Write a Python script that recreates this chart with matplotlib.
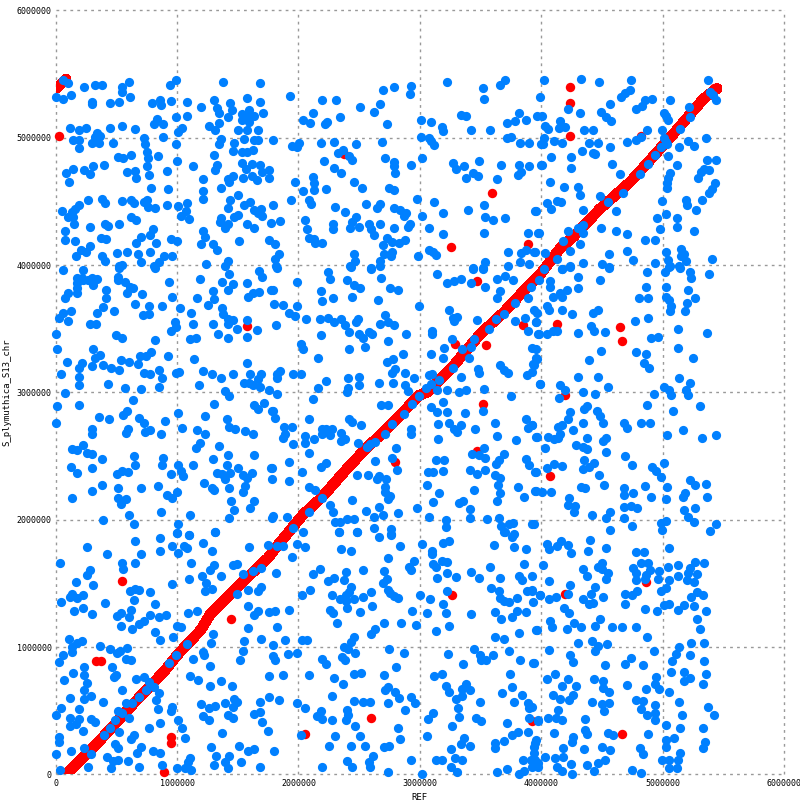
import numpy as np
import matplotlib
matplotlib.use('Agg')
import matplotlib.pyplot as plt

# positions in kb: (REF, S_plymuthica_S13_chr)
# main diagonal, forward matches
diag_x = [83, 367, 643, 892, 1002, 1195, 1278, 1471, 1747, 1821, 2041, 2193, 2386, 2565, 2730, 2992, 3061, 3267, 3501, 3694, 3887, 3997, 4154, 4264, 4485, 4733, 4871, 5091, 5339, 5449]
diag_y = [0, 270, 558, 807, 938, 1134, 1265, 1449, 1698, 1790, 2044, 2176, 2386, 2569, 2714, 2976, 3002, 3199, 3462, 3632, 3829, 3934, 4129, 4221, 4443, 4653, 4797, 5033, 5308, 5387]
corner_x = [10, 86]
corner_y = [5390, 5460]

red_hits = [(30,5017),(3595,4569),(3256,4145),(3893,4168),(2377,4871),(1576,3522),(3546,3370),(3521,2905),(2793,2451),(3289,3383),(3474,3874),(3846,3533),(3474,2543),
    (4132,3541),(4653,3517),(4669,3402),(4074,2344),(4193,2976),(544,1517),(334,888),(373,888),(1446,1218),(947,291),(947,249),(892,16),
    (2598,440),(2055,314),(3262,1412),(4669,314),(4196,1415),(4865,1514),(3920,422),(4240,5400),(4240,5270),(4240,5010),(4825,5010),(5420,5390)]

blue_on_diag = [(5394,5360),(5416,5334),(5438,5300),(5223,5159),(5141,5072),(5030,4967),(4986,4928),(4939,4863),(4876,4797),(4815,4719),(4672,4569),(4554,4496),(4347,4313),(4127,4051),(4022,3972),
    (2091,2057),(1959,1934),(2193,2170),(2565,2569),(2592,2596),(2634,2609),(2716,2674),(2771,2753),(2868,2832),(2937,2911),(2992,2968),(3143,3016),(3157,3094),(3088,3068),(3273,3192),(3350,3344),(3419,3357),(3446,3423),(3570,3501),(3625,3580),(3694,3619),(3785,3706),(3915,3829),(3984,3882),
    (237,204),(395,307),(444,362),(491,427),(511,500),(547,479),(602,440),(582,563),(629,558),(684,610),(740,663),(767,728),(809,689),(933,878),(994,935),(1082,1022),(1821,1790),(1876,1795)]

blue_upper_left = [(63,5452),(105,5426),(237,5395),(326,5418),(381,5413),(602,5434),(546,5395),(544,5360),(0,5321),(63,5308),(124,5332),(613,5316),(298,5282),(298,5261),(444,5269),(522,5279),(795,5269),(858,5295),(864,5258),(947,5285),(941,5418),(994,5450),(1082,5277),(1195,5245),(1305,5300),(1333,5237),(1347,5195),(1435,5269),(1452,5216),(1416,5164),(1579,5311),(1686,5277),(1380,5434),(1686,5426),(1706,5198),(1595,5216),(1637,5169),(1532,5190),(1532,5143),(1595,5125),(1576,5164),
    (836,5151),(814,5109),(886,5109),(991,5161),(1082,5169),(1043,5075),(1007,5046),(1264,5096),(1314,5064),(1347,5112),(1499,5062),(1579,5057),(1670,5057),(119,5075),(188,5059),(248,5080),(444,5080),(544,5096),(651,5072),
    (141,4986),(188,4986),(196,4923),(339,5041),(367,5017),(298,4960),(356,4960),(326,5007),(469,4962),(726,4994),(734,4954),(883,5002),(991,4947),(1361,4991),(1347,4947),(1471,4960),(1463,4899),(1554,4988),(1637,4981),(1670,4986),(1532,4889),(1576,4889),(1623,4907),(1305,4868),(753,4889),(759,4842),(842,4860),(513,4852),(555,4844),(621,4863),
    (400,4789),(306,4776),(237,4750),(284,4719),(141,4753),(86,4726),(113,4656),(753,4776),(999,4821),(1132,4781),(919,4742),(588,4734),(654,4742),(660,4684),(770,4711),(1333,4789),(1314,4750),(1214,4679),(1416,4679),(1463,4698),(1430,4653),(1532,4802),(1568,4758),(1615,4795),(1546,4687),(1615,4698),(1656,4671),(1686,4784),(1697,4732),(1761,4750),(1761,4687),
    (784,4609),(925,4601),(1363,4609),(1212,4582),(1217,4522),(1504,4554),(270,4514),(381,4522),(406,4491),(546,4506),(624,4509),(646,4491),(726,4496),(753,4509),(762,4457),(817,4449),(919,4470),(1007,4467),(1085,4485),(1438,4509),(1416,4451),(1554,4475),(1604,4498),(1637,4436),(1692,4443),(1664,4412),(1697,4386),
    (188,4470),(163,4438),(138,4417),(50,4423),(105,4378),(141,4378),(155,4326),(624,4381),(660,4354),(1029,4388),(1074,4425),(1101,4365),(1361,4373),(1352,4339),(1416,4326),(1397,4292),(1471,4378),(1501,4391),(1579,4326),(1637,4294),(1775,4333),
    (279,4299),(406,4326),(428,4310),(522,4326),(80,4271),(800,4286),(776,4239),(1214,4271),(1228,4221),(80,4200),(163,4192),(373,4216),(411,4208),(704,4218),(660,4176),(825,4176),(952,4208),(1002,4192),(1195,4168),(1510,4192),(1761,4200),(1300,4168),(1333,4121),
    (284,4153),(210,4121),(246,4103),(171,4074),(505,4095),(588,4100),(676,4090),(776,4103),(381,4069),(406,4032),(704,4024),(891,4069),(960,4074),(850,4024),(814,3993),(1239,4009),(1416,4032),(1397,3993),(519,3993),(549,3998)]

blue_upper_mid = [(1934,5324),(2198,5300),(2306,5300),(2116,5198),(2039,5143),(2099,5112),(2215,5104),(2234,5122),(2339,5161),(2504,5245),(2620,5206),(2669,5261),(2697,5374),(2785,5395),(2926,5405),(2917,5345),(2727,5104),(3008,5143),(3091,5127),(3185,5085),(3193,5054),(3223,5434),(3521,5387),(3529,5308),(3661,5418),(3703,5457),(3992,5316),(3336,5182),(3383,5167),(3422,5057),(3579,5057),(3818,5198),(3785,5135),(3719,5119),(3876,5143),(3964,5174),
    (1793,4986),(1945,4939),(1986,4928),(2008,4962),(2187,4962),(2289,4970),(2471,4947),(2686,4970),(3008,5002),(3074,4996),(3116,4941),(3096,4975),(3719,4994),(3755,5002),(3827,4962),(3901,4962),(3997,4954),
    (2364,4907),(2322,4881),(2413,4860),(2438,4829),(2207,4821),(2289,4766),(2347,4726),(2711,4844),(2785,4810),(2785,4779),(2793,4726),(2926,4789),(3017,4844),(3273,4802),(3298,4758),(3364,4779),(3488,4821),(3670,4789),(3818,4789),(3901,4781),(3997,4789),(3438,4726),(3479,4703),(3380,4687),(3639,4679),(3835,4734),(3807,4711),
    (2116,4695),(2132,4648),(2124,4593),(1975,4656),(2039,4585),(2223,4601),(2455,4656),(2521,4609),(2744,4609),(2788,4590),(1942,4514),(2083,4509),(2107,4480),(1793,4470),(2298,4459),(2380,4420),(2554,4483),(2669,4477),(2645,4451),(2785,4451),(2835,4436),(2884,4412),(2868,4386),(2975,4522),(3116,4493),(3190,4412),(3397,4436),(3529,4475),(3537,4381),(3603,4357),(3703,4373),(3959,4428),(3017,4388),
    (2058,4357),(1851,4349),(2074,4286),(2281,4320),(2281,4284),(2471,4381),(2444,4341),(2427,4294),(2496,4302),(2579,4320),(2600,4286),(2669,4326),(2620,4237),(2785,4294),(2917,4326),(2901,4302),(3074,4294),(3190,4247),(3529,4255),(3890,4255),(3984,4255),
    (2091,4216),(2132,4208),(2140,4176),(2198,4176),(1810,4168),(2727,4213),(2694,4160),(2826,4176),(2876,4195),(2768,4184),(3074,4121),(3107,4105),(3135,4082),(2455,4090),(2703,4090),(2768,4105),(2760,4071),(2984,4074),(3727,4105),(3832,4098),(3873,4116),(3951,4105),(3827,4027),(3901,4011),(3537,4027),(3727,3995),(1843,4090),(1810,4051),(1818,3990),(2463,4032),(2427,3990),(2669,4035),(2675,3990),(2595,3972),(3438,3972),(3521,3972)]

blue_upper_right = [(4025,5450),(4331,5465),(4479,5434),(4736,5450),(5372,5450),(4733,5374),(4691,5355),(4661,5316),(4851,5300),(4909,5308),(5058,5300),(4829,5253),(4777,5229),(4570,5261),(4223,5222),(4322,5198),(4496,5206),(4537,5159),(4573,5130),(5008,5198),(5025,5167),(5041,5143),(5215,5245),(4008,5167),(4154,5130),(4198,5088),(4149,5080),(4033,5093),(4058,5070),(4355,5057),(4430,5057),(4868,5057),(4992,5064),
    (4025,4994),(4011,4954),(4105,4978),(4174,4960),(4397,4962),(4466,4962),(4570,4931),(4705,4970),(4777,4986),(4824,5002),(5008,4994),(5036,4954),(5132,4931),(5207,4978),(5256,4939),(5355,4994),
    (4339,4899),(4248,4852),(4083,4852),(4008,4789),(4430,4884),(4446,4876),(4587,4797),(4248,4766),(5041,4860),(5116,4789),(5364,4829),(5438,4829),(5339,4758),(5380,4750),(5314,4732),(5289,4687),(4653,4719),(5058,4726),(5041,4687),(5033,4645),(5033,4606),(5430,4648),(5405,4601),(5380,4567),(4074,4656),(4190,4616),(4306,4614),(4322,4553),(4488,4546),(4992,4506),(5190,4514),(5201,4475),(5322,4514),(5273,4436),(4127,4506),(4160,4498),(4050,4491),(4083,4443),(3950,4428),(4347,4436),(4620,4428),(4956,4373),(5025,4404),(5116,4373),(5118,4302),(4975,4286),(4496,4294),(4620,4271),(4703,4247),(5256,4271),(4223,4271),(3975,4255),(4306,4294),(4347,4255),(4322,4168),(4179,4192),(4240,4113),(4851,4200),(4934,4200),(5025,4105),(4703,4113),(4562,4090),(4752,4043),(4934,4019),(5149,4129),(5174,4090),(5149,4074),(5190,4035),(5405,4051),(5041,4043),(5058,3995),(5132,3995),(4347,4019),(4504,4011),(4562,3988),(4240,3995),(4174,3972),(3942,4105),(4033,4098)]

blue_middle_left = [(63,3958),(221,3961),(519,3979),(822,3974),(179,3895),(215,3895),(179,3856),(229,3882),(270,3882),(298,3895),(340,3890),(306,3843),(179,3816),(179,3777),(105,3777),(80,3745),(511,3908),(511,3882),(574,3869),(615,3829),(638,3822),(588,3777),(712,3769),(411,3808),(411,3738),(386,3672),(339,3627),(477,3640),(651,3698),(767,3680),(878,3675),(770,3619),(718,3604),(933,3864),(958,3753),(1190,3890),(1024,3659),(1115,3627),(1165,3745),(1374,3864),(1430,3926),(1463,3848),(1422,3801),(1579,3856),(1678,3953),(1697,3903),(1297,3793),(1305,3730),(1256,3690),(1582,3748),(1623,3777),(1678,3785),(1775,3801),(1372,3659),(1380,3612),(1416,3580),(1463,3572),(1416,3541),(1490,3501),(1297,3541),(1339,3462),(1416,3430),(1132,3541),(1576,3572),(1656,3493),(1573,3438),(1573,3234),
    (30,3588),(63,3627),(124,3643),(99,3564),(284,3538),(331,3538),(5,3462),(14,3344),(494,3454),(546,3428),(817,3415),(949,3486),(983,3549),(994,3514),(1107,3423),(1159,3430),(304,3344),(362,3297),(320,3273),(97,3241),(215,3234),(190,3193),(298,3210),(386,3218),(453,3194),(519,3178),(535,3252),(602,3241),(676,3226),(698,3286),(742,3283),(787,3320),(925,3289),(1140,3265),(47,3147),(196,3123),(196,3060),(428,3068),(731,3155),(776,3147),(850,3178),(875,3115),(994,3155),(1013,3163),(850,3045),(569,3037),(701,3026),(1181,3060),(1214,3170),(1289,3147),(1363,3115),(1463,3147),(1604,3147),(1695,3147),(1554,3076),(1595,3076),(1664,3108),(1628,3055),(1686,3039),(1755,3021),
    (80,2997),(14,2895),(196,2903),(635,2940),(1397,3013),(1430,2974),(1305,2911),(1637,2903),(1664,2871),(1714,2919),(1780,2856),(588,2856),(552,2824),(359,2808),(436,2792),(684,2800),(731,2761),(897,2777),(1007,2840),(1231,2816),(1408,2792),(5,2761),(1427,2730),(1477,2714),(1041,2722),(1165,2706),(1231,2674),(1562,2698),(1623,2674),(298,2714),(298,2674),(593,2714),(577,2680),(773,2706),(737,2690),(869,2674),
    (1190,2603),(1159,2564),(1347,2580),(221,2588),(138,2556),(174,2548),(262,2525),(298,2514),(378,2478),(646,2501),(883,2485),(1416,2509),(1637,2509),(1297,2478),(130,2417),(174,2367),(298,2407),(651,2430),(875,2430),(1007,2430),(1132,2430),(1408,2430),(1499,2407),(1775,2407),(546,2383),(508,2357),(593,2375),(952,2359),(1032,2383),(1049,2344),(1333,2367),(1374,2359),(1438,2367),(1394,2320),(1546,2351),(1573,2328),(1615,2367),(1780,2320),
    (381,2273),(298,2225),(511,2249),(701,2249),(842,2265),(1223,2288),(1289,2249),(1305,2233),(1430,2249),(1562,2265),(1540,2215),(138,2170),(511,2170),(580,2163),(535,2123),(919,2194),(958,2170),(1002,2218),(1446,2147),(1637,2147),(1604,2092),(1471,2076),(602,2036),(869,2060),(1107,2036),(1430,2013),(386,1995),(643,1966),(1007,1966),(999,1897),(1098,1879),(1314,1903),(1780,2013)]

blue_middle_mid = [(1826,3974),(2240,3942),(2256,3887),(1992,3864),(2430,3987),(2595,3974),(2397,3879),(2678,3895),(2455,3840),(2504,3816),(2752,3816),(2818,3801),(1788,3801),(2187,3793),(2190,3717),(2281,3738),(2438,3753),(2653,3722),(1802,3698),(1876,3690),(1992,3680),(1926,3627),(1975,3601),(2992,3675),(1818,3533),(2066,3580),(2174,3580),(2240,3588),(2289,3549),(2347,3580),(2380,3533),(2413,3478),(2488,3580),(2471,3549),(2711,3606),(2669,3541),(2736,3554),(2785,3533),(2182,3454),(2496,3462),(2529,3430),(2579,3478),(2606,3462),(2884,3462),(2736,3407),(2025,3383),(2041,3344),(2413,3344),(2546,3360),(2860,3304),(2165,3273),(2730,3239),(2780,3265),(1826,3147),(1826,3113),(1848,3170),(1959,3147),(2025,3147),(2405,3115),(2496,3123),(2496,3060),(2231,3092),(2165,3037),(2661,3076),(2777,3076),(2769,3155),(2793,3186),(2876,3155),(2950,3115),(2876,3060),(2901,3013),(2405,3037),(2397,3005),(1821,2989),(2116,2950),(2678,2903),(2736,2903),(1793,2856),(1810,2800),(2083,2792),(2413,2792),(2438,2769),(2513,2745),(1884,2730),(1950,2730),(1890,2674),(1870,2643),(1959,2596),(2190,2714),(2231,2714),(2273,2714),(2198,2674),(2256,2666),(2347,2682),(2347,2619),(2380,2635),(2058,2659),(2124,2635),(2050,2603),(2091,2525),(2488,2603),(2926,2714),(2926,2674),(2802,2564),(2769,2485),(2815,2391),(2628,2462),(1926,2454),(2231,2446),(2182,2414),(2033,2375),(1780,2407),(1926,2304),(2479,2351),(2570,2351),(2661,2346),(2645,2320),(2719,2320),(2711,2254),(2711,2215),(2736,2163),(2752,2189),(2083,2257),(2140,2233),(2256,2115),(2281,2060),(2438,2155),(2661,2100),(2694,2036),(2625,2021),(2554,2068),(2818,2052),(2975,2092),(1909,2021),(1793,2029),(2298,1981),(2339,1981),(2397,2005),(2455,2005),(2331,1903),(2479,1903),(2620,1934),(2760,1926),(2760,1887),(2041,1903),
    (3141,3926),(3438,3974),(3521,3974),(3226,3856),(3281,3874),(3339,3887),(3419,3856),(3636,3887),(3702,3911),(3769,3879),(3537,3824),(3661,3793),(3639,3738),(3887,3738),(3240,3651),(3273,3588),(3306,3596),(3281,3562),(3099,3483),(3099,3462),(3471,3572),(3785,3564),(3865,3588),(3893,3486),(3981,3462),(3959,3549),(3265,3423),(3198,3352),(3190,3273),(3091,3304),(3405,3273),(3959,3344),(3661,3218),(3694,3178),(3727,3155),(3967,3265),(3942,3213),(3884,3139),(3482,3186),(3490,3155),(3074,3139),(3099,3147),(3336,3123),(3050,3037),(3223,3021),(3322,3005),(3380,3021),(3529,3029),(3992,3068),(3752,2968),(3190,2926),(3091,2887),(3141,2848),(3223,2848),(3372,2840),(3521,2856),(3149,2753),(3240,2761),(3281,2714),(3336,2745),(3306,2690),(3455,2714),(3620,2761),(3636,2659),(3876,2792),(3893,2722),(3928,2745),(3793,2627),(3964,2651),(3149,2635),(3529,2564),(3430,2517),(3488,2509),(3540,2485),(3694,2517),(3653,2470),(3628,2436),(3876,2478),(3901,2430),(3132,2470),(3198,2470),(3413,2391),(3471,2359),(3537,2391),(3066,2375),(3107,2375),(3190,2383),(3617,2351),(3661,2330),(3959,2375),(3058,2273),(3157,2210),(3645,2273),(3661,2210),(3636,2147),(3446,2233),(3810,2257),(3959,2225),(3860,2178),(3107,2139),(3322,2131),(3355,2147),(3413,2084),(3074,2021),(3413,2013),(3554,2005),(3653,2013),(3942,1966),(3769,1973),(3215,1997),(3215,1942),(3670,1950),(3694,1903),(3736,1966),(3777,1887)]

blue_middle_right = [(4868,3942),(5022,3942),(5050,3987),(5146,3979),(5223,3948),(5231,3895),(5380,3926),(4562,3979),(4174,3966),(4237,3987),(4306,3903),(4488,3879),(4074,3871),(4074,3824),(4306,3816),(4215,3808),(4154,3777),(4099,3753),(4174,3753),(4860,3824),(4802,3738),(4876,3745),(5025,3824),(5025,3753),(5050,3722),(5066,3675),(5058,3643),(5207,3801),(5265,3745),(5198,3706),(5182,3643),(4050,3682),(4066,3651),(4174,3651),(4256,3612),(3942,3651),(3967,3627),(3959,3556),(4430,3627),(4471,3651),(4769,3564),(4876,3588),(4413,3525),(4438,3486),(4529,3478),(4306,3470),(5124,3501),(5364,3470),(4901,3430),(4959,3438),(3975,3462),(4044,3462),(4099,3480),(4132,3486),(3928,3352),(4496,3328),(4397,3257),(4777,3320),(4860,3304),(5124,3352),(5248,3273),(4843,3234),(4884,3194),(3961,3273),(3934,3226),(3928,3160),(4306,3123),(4471,3123),(4554,3045),(3992,3068),(4157,3060),(4193,3021),(4149,2958),(4347,3005),(4446,2989),(4926,2989),(5008,3045),(5050,3016),(5066,2976),(5132,3115),(5223,3076),(5190,3021),(5207,2982),(4868,2903),(5083,2856),(5306,2895),(4380,2895),(4355,2871),(4240,2848),(4223,2792),(4463,2856),(4488,2816),(4512,2761),(4347,2761),(4686,2761),(4703,2722),(4818,2761),(4893,2761),(3928,2745),(4141,2730),(4174,2745),(4264,2706),(4157,2674),(4141,2643),(4058,2651),(4107,2635),(3959,2651),(4380,2643),(4537,2643),(4512,2619),(5033,2666),(5165,2706),(5322,2643),(5438,2666),(4033,2564),(4289,2588),(4347,2572),(4380,2556),(4537,2533),(4694,2501),(4355,2470),(4438,2446),(4397,2414),(4347,2399),(4744,2430),(5008,2446),(4909,2414),(4948,2383),(4984,2336),(4107,2438),(4174,2422),(4050,2407),(3950,2375),(4479,2351),(4521,2273),(4331,2257),(4364,2249),(4686,2249),(4686,2194),(4752,2210),(4851,2265),(5033,2257),(4901,2178),(5025,2163),(5223,2312),(5265,2273),(5355,2281),(5182,2210),(5165,2178),(5364,2178),(3950,2225),(4008,2218),(4083,2218),(4231,2170),(4223,2115),(4281,2107),(4273,2060),(4421,2036),(4570,2060),(4537,2013),(4686,2100),(4736,2107),(4785,2092),(4678,2013),(5174,2076),(5265,2092),(5207,2021),(5256,1981),(4984,1973),(5025,1989),(4992,1918),(4744,1950),(4570,1918),(5438,1966),(5389,1911),(3928,1966)]

blue_lower_left = [(858,1855),(999,1899),(1098,1879),(1314,1906),(657,1831),(262,1784),(858,1753),(958,1792),(1007,1737),(1057,1792),(1085,1776),(1214,1816),(1289,1753),(1595,1784),(1747,1800),(420,1729),(701,1729),(39,1658),(544,1658),(651,1658),(552,1611),(1115,1658),(1305,1643),(1272,1603),(1463,1643),(1496,1651),(1206,1556),(1363,1556),(1546,1572),(1623,1596),(1695,1619),(284,1603),(262,1564),(171,1509),(304,1486),(1101,1533),(1239,1501),(1231,1438),(1289,1454),(958,1493),(1587,1446),(1670,1438),(1695,1470),(1496,1415),(610,1438),(651,1454),(684,1446),(776,1430),(643,1368),(817,1336),(47,1352),(119,1391),(138,1415),(179,1383),(221,1407),(406,1344),(155,1281),(229,1305),(298,1258),(1587,1326),(621,1289),(535,1265),(502,1242),(602,1234),(776,1250),(850,1234),(908,1250),(1090,1265),(1165,1281),(1637,1250),(1670,1281),(1761,1273),(726,1203),(684,1179),(627,1140),(535,1163),(817,1116),(858,1053),(999,1163),(1029,1155),(966,1077),(1297,1100),(1281,1030),(1587,1148),(1554,1045),(1695,1061),(113,1061),(132,998),(179,1030),(215,1045),(362,1006),(444,982),(502,951),(527,967),(585,990),(132,959),(63,935),(30,880),(577,904),(618,896),(1132,904),(1214,959),(1223,935),(1546,967),(1521,896),(1272,849),(237,841),(461,841),(146,794),(237,778),(72,739),(494,778),(477,762),(262,715),(237,660),(295,613),(237,590),(121,597),(386,566),(544,660),(662,747),(726,765),(1107,770),(1173,739),(1363,731),(1455,692),(1272,692),(850,637),(825,582),(1761,770),(1761,610),(47,519),(188,511),(5,464),(121,440),(196,432),(295,432),(320,409),(121,377),(171,393),(221,338),(845,511),(958,527),(949,495),(1198,550),(1264,519),(1314,534),(1397,558),(1471,590),(1493,566),(1463,527),(1686,566),(1214,456),(1264,424),(1422,464),(1463,440),(1686,487),(1637,472),(1007,424),(1041,362),(1703,409),(1747,338),(856,401),(767,362),(1372,322),(519,330),(643,307),(618,275),(1065,283),(30,291),(30,252),(486,236),(511,204),(701,212),(800,181),(858,165),(1281,212),(1512,220),(1587,181),(1637,197),(130,181),(5,157),(287,157),(668,165),(1322,141),(1430,141),(1397,94),(1529,94),(420,134),(469,102),(511,113),(593,102),(1107,126),(1090,94),(1305,71),(1422,47),(1686,55),(265,55),(453,47),(684,55),(875,71),(39,31),(999,47),(1065,47),(1115,31)]

blue_lower_mid = [(2331,1907),(2479,1907),(2661,1863),(2760,1879),(2835,1792),(3017,1808),(3190,1816),(3240,1831),(3703,1907),(3761,1863),(3612,1800),(3777,1784),(3876,1769),(2347,1769),(2430,1753),(3099,1753),(3099,1729),(2736,1698),(2950,1674),(2909,1627),(2926,1603),(2058,1784),(1992,1808),(1950,1706),(3107,1651),(3182,1674),(3226,1666),(3132,1627),(3223,1580),(3860,1651),(3579,1627),(2529,1603),(2703,1596),(2174,1611),(2116,1572),(2388,1588),(1818,1580),(3422,1588),(3141,1541),(3298,1548),(3490,1541),(3661,1541),(3818,1556),(3843,1525),(3926,1556),(2240,1517),(2289,1541),(2372,1525),(2727,1533),(2694,1501),(2430,1470),(3587,1462),(3650,1438),(3884,1438),(3923,1446),(2033,1407),(2099,1446),(2273,1407),(2413,1430),(2388,1407),(2595,1430),(2736,1446),(2752,1423),(3000,1407),(3223,1438),(3986,1407),(2339,1376),(2388,1360),(2455,1376),(2529,1391),(2785,1399),(2818,1383),(3083,1376),(3661,1383),(3694,1360),(3736,1352),(3802,1383),(2603,1320),(3190,1336),(2397,1305),(2256,1289),(2281,1265),(2504,1273),(2934,1281),(3058,1265),(3215,1265),(3422,1258),(3620,1273),(3802,1281),(3876,1273),(1926,1289),(1810,1281),(3761,1234),(3670,1218),(2314,1187),(2703,1187),(2843,1187),(2967,1171),(3240,1163),(1826,1155),(3967,1132),(3818,1108),(3132,1124),(2628,1140),(2595,1100),(2455,1077),(2430,1037),(3620,1077),(3694,1061),(1892,1053),(2033,1053),(2074,1053),(1793,1014),(2372,998),(2405,982),(2463,951),(2744,982),(2868,951),(3446,982),(3231,943),(3496,935),(3603,935),(3736,967),(1917,943),(1992,951),(1793,927),(1810,896),(2198,904),(2223,865),(2355,920),(2380,896),(3504,896),(3543,896),(3827,896),(3355,865),(3942,872),(2802,841),(1876,778),(2083,778),(2455,786),(2512,794),(2703,778),(2289,755),(2364,707),(3116,770),(3182,786),(3744,786),(2736,684),(2711,660),(2793,645),(2826,597),(2926,605),(2959,558),(3215,692),(3240,645),(3380,707),(3347,668),(3413,660),(3347,613),(3298,590),(3761,684),(3678,637),(3843,621),(2273,613),(1843,582),(1992,558),(2058,519),(2455,574),(2529,566),(2587,566),(2736,558),(3496,566),(3777,566),(3887,558),(3901,519),(2876,503),(3314,519),(3107,479),(2397,503),(2182,495),(2149,456),(2190,432),(2273,424),(2405,464),(2388,424),(3066,432),(3322,448),(3463,440),(3504,417),(3901,440),(3970,422),(2463,377),(2818,362),(3265,377),(3719,401),(2017,307),(2298,299),(2504,299),(3058,299),(2835,275),(3810,330),(3887,330),(3761,307),(3694,259),(1802,181),(2248,220),(2430,220),(2546,220),(2703,212),(2744,220),(3364,283),(3339,236),(3413,220),(3620,244),(3620,204),(3256,196),(3956,270),(3942,217),(2614,141),(2579,94),(2587,55),(2397,102),(2438,55),(2198,55),(2926,110),(3132,110),(3182,110),(2736,16),(3017,0),(3289,126),(3347,110),(3256,55),(3306,16),(3636,16),(3719,39),(3818,0),(3851,110),(3860,24),(3912,113),(3942,165),(3970,86),(3928,55)]

blue_lower_right = [(4405,1839),(4050,1808),(4066,1769),(4132,1792),(4165,1831),(4223,1800),(4248,1737),(4388,1753),(4537,1776),(4777,1745),(4843,1745),(5050,1776),(4017,1643),(4826,1658),(4876,1658),(4752,1619),(4777,1580),(4777,1525),(4893,1603),(4860,1567),(4851,1533),(4967,1596),(4959,1533),(5041,1627),(5050,1525),(5124,1643),(5265,1666),(5339,1658),(5223,1619),(5124,1556),(5207,1580),(5281,1572),(5198,1525),(5256,1509),(4347,1611),(4380,1556),(4471,1627),(4504,1658),(4504,1611),(4554,1580),(4537,1533),(4066,1517),(4240,1486),(3920,1438),(3992,1407),(4223,1415),(4066,1376),(4124,1391),(4446,1470),(4413,1415),(4347,1376),(4397,1336),(4430,1344),(4512,1391),(4694,1415),(4744,1407),(4785,1438),(4694,1336),(4984,1438),(5025,1462),(5231,1391),(5281,1430),(5331,1407),(3934,1352),(4190,1305),(4231,1265),(4851,1297),(4950,1281),(5008,1328),(5050,1336),(5124,1289),(5174,1328),(5256,1320),(5355,1281),(5284,1218),(4074,1203),(4091,1155),(3959,1132),(4215,1140),(4273,1187),(4331,1155),(4488,1218),(4446,1163),(4579,1155),(4669,1155),(4777,1155),(5306,1140),(4868,1077),(4306,1030),(4421,1045),(4471,1006),(4545,1022),(4446,967),(4066,975),(5231,1030),(5339,1030),(5132,998),(4926,967),(5113,943),(5223,935),(4240,935),(4264,886),(3934,872),(4529,857),(4736,912),(4694,865),(4835,857),(5074,888),(5339,888),(5066,802),(5174,802),(4116,786),(4050,747),(4223,747),(4438,747),(4512,731),(4942,762),(5223,755),(5355,786),(5174,731),(5331,707),(4168,692),(4289,692),(4512,676),(4562,645),(4703,700),(4860,668),(4934,710),(4967,668),(5050,645),(4099,621),(4157,590),(4231,582),(4264,621),(4421,566),(4504,550),(4562,558),(4521,495),(4777,582),(4835,574),(4826,511),(4868,464),(4934,542),(4934,479),(4934,424),(5132,566),(5372,527),(5157,464),(5421,464),(4141,503),(4058,440),(4121,440),(4174,424),(3975,424),(3928,532),(4364,432),(5025,385),(5141,362),(5331,362),(4107,322),(4364,346),(4380,317),(4554,322),(4595,307),(4876,314),(5025,267),(5091,283),(5025,217),(5347,252),(5331,207),(4265,291),(4256,252),(3948,244),(4182,204),(4355,197),(4504,212),(4570,189),(4810,204),(4835,157),(5141,165),(4033,134),(4116,126),(4182,134),(5124,110),(4992,110),(5050,110),(4529,110),(4471,86),(4380,71),(4248,79),(4132,55),(4174,24),(4438,24),(4256,0),(5050,47),(5116,47),(4744,31),(4818,8),(3975,60),(3948,113)]

tick_values = [0, 1000000, 2000000, 3000000, 4000000, 5000000, 6000000]

blue_all = np.array(blue_upper_left + blue_upper_mid + blue_upper_right + blue_middle_left + blue_middle_mid
                    + blue_middle_right + blue_lower_left + blue_lower_mid + blue_lower_right + blue_on_diag) * 1000
red_all = np.array(red_hits) * 1000

fig = plt.figure(figsize=(8, 8), dpi=100)
ax = fig.add_axes([0.0696, 0.032, 0.9104, 0.955])

# forward matches as a thick band, then single hits, repeats on top
ax.plot(np.array(diag_x) * 1000, np.array(diag_y) * 1000, color='#ff0000', lw=7, solid_capstyle='round', zorder=2, antialiased=False)
ax.plot(np.array(corner_x) * 1000, np.array(corner_y) * 1000, color='#ff0000', lw=7, solid_capstyle='round', zorder=2, antialiased=False)
ax.scatter(red_all[:, 0], red_all[:, 1], s=46, c='#ff0000', linewidths=0, zorder=3, antialiased=False, clip_on=False)
ax.scatter(blue_all[:, 0], blue_all[:, 1], s=44, c='#0080ff', linewidths=0, zorder=4, antialiased=False, clip_on=False)

ax.set_xlim(0, 6000000)
ax.set_ylim(0, 6000000)
ax.set_xticks(tick_values)
ax.set_yticks(tick_values)
ax.set_xticklabels([str(t) for t in tick_values], family='DejaVu Sans Mono', fontsize=6)
ax.set_yticklabels([str(t) for t in tick_values], family='DejaVu Sans Mono', fontsize=6)
ax.tick_params(length=0, pad=3)
ax.grid(True, color='#999999', linestyle=(0, (2, 3)), linewidth=1, zorder=1)
for gl in ax.get_xgridlines() + ax.get_ygridlines():
    gl.set_clip_on(False)
for s in ax.spines.values():
    s.set_visible(False)
ax.set_xlabel('REF', family='DejaVu Sans Mono', fontsize=6.5, labelpad=4)
ax.set_ylabel('S_plymuthica_S13_chr', family='DejaVu Sans Mono', fontsize=6.5, labelpad=4)

plt.savefig('out.png', dpi=100)
